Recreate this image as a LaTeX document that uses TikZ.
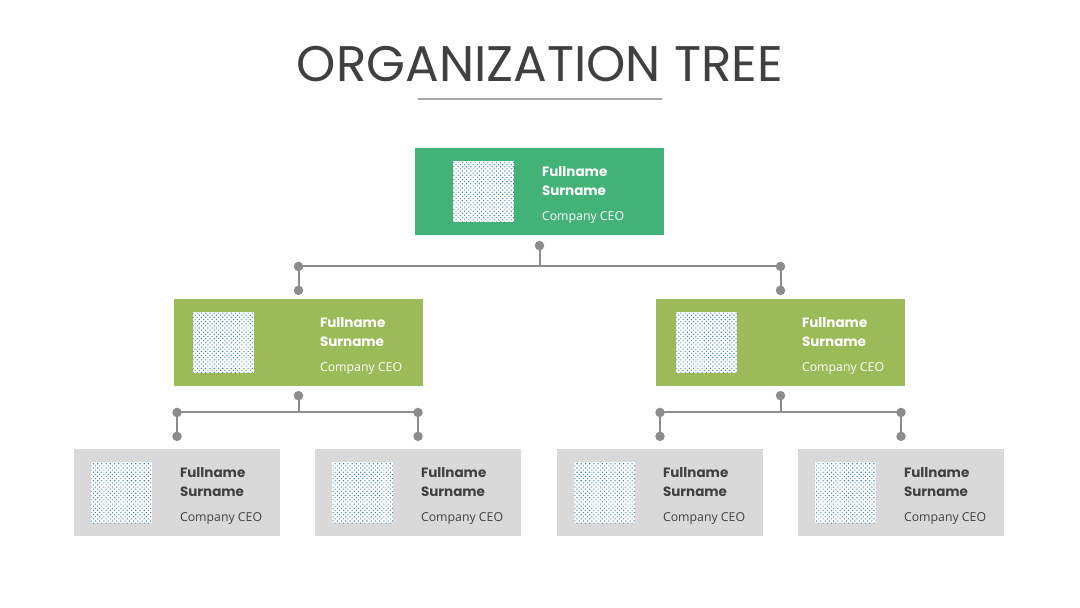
\documentclass[tikz,border=0pt]{standalone}
\usepackage{fontspec}
\setmainfont{Open Sans}
\newfontfamily\poppins{Poppins}
\usetikzlibrary{positioning, calc, patterns.meta}
\definecolor{cceo}{HTML}{42B276}
\definecolor{cmid}{HTML}{9BBB59}
\definecolor{cstaff}{HTML}{D9D9D9}
\definecolor{cwire}{HTML}{8C8C8C}
\definecolor{cink}{HTML}{404040}
\definecolor{crule}{HTML}{A6A6A6}
\definecolor{cdots}{HTML}{3F86B8}
\tikzset{
  every picture/.style={x=1pt, y=-1pt},
  card/.style={fill=#1, minimum width=249pt, minimum height=87pt, inner sep=0pt},
  staff/.style={fill=cstaff, minimum width=206pt, minimum height=87pt, inner sep=0pt},
  photo/.style={fill=white, minimum size=61pt, inner sep=0pt,
    postaction={pattern={Dots[distance=3pt, angle=45, radius=0.75pt]}, pattern color=cdots}},
  who/.style={text=#1, anchor=base west, inner sep=0pt},
  namefont/.style={font=\poppins\bfseries\fontsize{13.5}{16}\selectfont},
  rolefont/.style={font=\fontsize{12.3}{14}\selectfont},
  dot/.style={circle, fill=cwire, minimum size=9.5pt, inner sep=0pt},
  wire/.style={draw=cwire, line width=2pt},
  title/.style={font=\poppins\fontsize{50}{56}\selectfont, text=cink, anchor=base},
}
% #1 name, #2 centre, #3 box style, #4 photo offset, #5 text offset, #6 text colour
\newcommand{\member}[6]{
  \node[#3] (#1) at (#2) {};
  \node[photo] (#1-pic) at ($(#1.west)+(#4,0)$) {};
  \node[who=#6, namefont] (#1-first) at ($(#1.west)+(#5,-15.3)$) {Fullname};
  \node[who=#6, namefont] (#1-last) at ($(#1.west)+(#5,3.8)$) {Surname};
  \node[who=#6, rolefont] (#1-role) at ($(#1.west)+(#5,28.5)$) {Company CEO};
}

\begin{document}
\begin{tikzpicture}
  \useasboundingbox[fill=white] (0,0) rectangle (1080,608);
  \node[title] (head) at (540,81) {ORGANIZATION TREE};
  \draw[draw=crule, line width=2pt] (418,99) -- (662,99);

  % boxes
  \member{ceo}{539.5,191.5}{card=cceo}{68.5}{127}{white}
  \member{m1}{298.5,342.5}{card=cmid}{49.5}{146}{white}
  \member{m2}{780.5,342.5}{card=cmid}{51}{146}{white}
  \foreach \n/\x in {s1/177, s2/418, s3/660, s4/901}{
    \member{\n}{\x,492.5}{staff}{47.5}{106}{cink}
  }

  % connectors
  \node[dot, below=5.5pt of ceo] (ceo-d) {};
  \foreach \n in {m1, m2}{
    \node[dot, above=3.5pt of \n] (\n-t) {};
    \node[dot, above=14pt of \n-t] (\n-c) {};
    \node[dot, below=4.5pt of \n] (\n-d) {};
    \draw[wire] (\n-c.center) -- (\n-t.center);
  }
  \draw[wire] (ceo-d.center) -- (ceo-d.center |- m1-c.center);
  \draw[wire] (m1-c.center) -- (m2-c.center);
  \foreach \n in {s1, s2, s3, s4}{
    \node[dot, above=7.5pt of \n] (\n-t) {};
    \node[dot, above=14pt of \n-t] (\n-c) {};
    \draw[wire] (\n-c.center) -- (\n-t.center);
  }
  \draw[wire] (m1-d.center) -- (m1-d.center |- s1-c.center);
  \draw[wire] (s1-c.center) -- (s2-c.center);
  \draw[wire] (m2-d.center) -- (m2-d.center |- s3-c.center);
  \draw[wire] (s3-c.center) -- (s4-c.center);
\end{tikzpicture}
\end{document}
